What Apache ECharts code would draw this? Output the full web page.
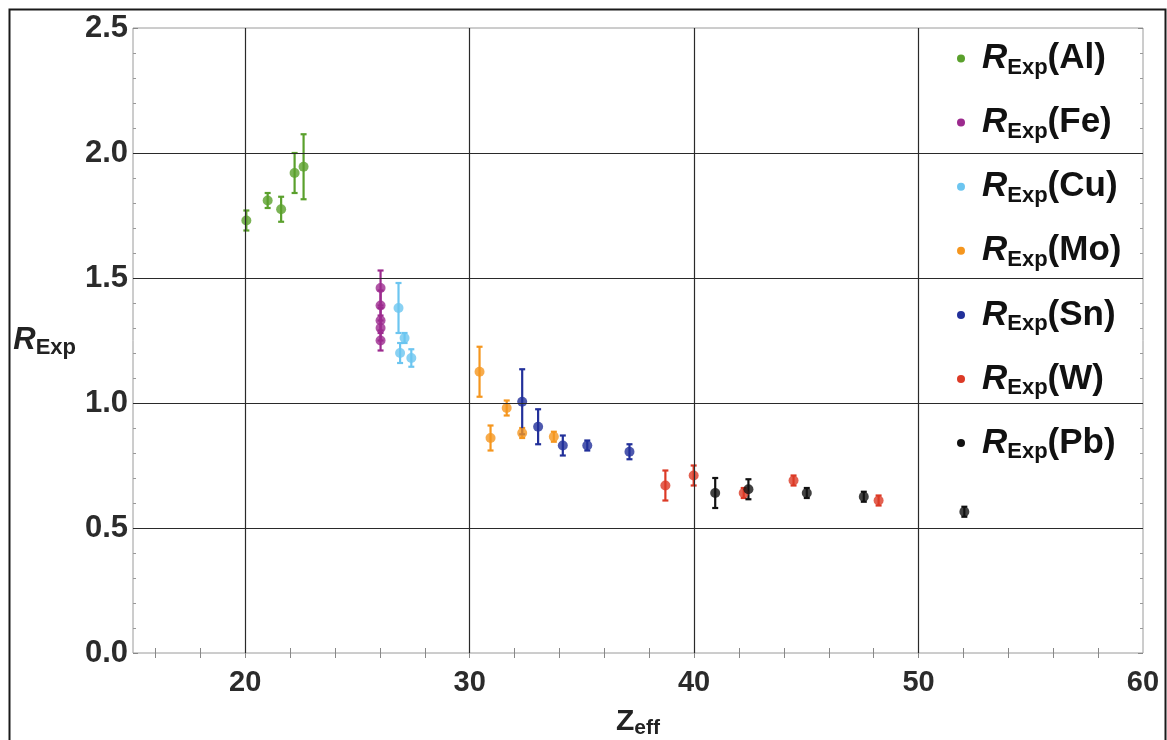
<!DOCTYPE html>
<html>
<head>
<meta charset="utf-8">
<script src="https://cdn.jsdelivr.net/npm/echarts@6/dist/echarts.min.js"></script>
<style>
  html, body { margin: 0; padding: 0; background: #fff; }
  #chart { width: 1167px; height: 740px; }
</style>
</head>
<body>
<div id="chart"></div>
<script>
// Measured ratio R_Exp versus effective atomic number Z_eff, one set per target.
// Each point: [Z_eff, R_Exp, uncertainty]
const targets = ['Al', 'Fe', 'Cu', 'Mo', 'Sn', 'W', 'Pb'];
const colors  = ['#5aa02c', '#9c2a8e', '#6cc5f0', '#f5961e', '#22309a', '#dc3a26', '#111111'];

const dataAl = [[20.05, 1.73, 0.04], [21.0, 1.81, 0.03], [21.6, 1.775, 0.05], [22.2, 1.92, 0.08], [22.6, 1.945, 0.13]];
const dataFe = [[26.03, 1.46, 0.07], [26.03, 1.39, 0.06], [26.03, 1.33, 0.05], [26.03, 1.30, 0.05], [26.03, 1.25, 0.04]];
const dataCu = [[26.83, 1.38, 0.10], [27.1, 1.26, 0.02], [26.9, 1.20, 0.04], [27.4, 1.18, 0.035]];
const dataMo = [[30.44, 1.125, 0.10], [30.93, 0.86, 0.05], [31.65, 0.98, 0.03], [32.34, 0.88, 0.02], [33.75, 0.865, 0.02]];
const dataSn = [[32.34, 1.005, 0.13], [33.05, 0.905, 0.07], [34.15, 0.83, 0.04], [35.24, 0.83, 0.02], [37.12, 0.805, 0.03]];
const dataW  = [[38.72, 0.67, 0.06], [39.98, 0.71, 0.04], [42.21, 0.64, 0.02], [44.43, 0.69, 0.02], [48.22, 0.61, 0.02]];
const dataPb = [[40.94, 0.64, 0.06], [42.42, 0.655, 0.04], [45.02, 0.64, 0.02], [47.56, 0.625, 0.02], [52.04, 0.565, 0.02]];
const seriesData = [dataAl, dataFe, dataCu, dataMo, dataSn, dataW, dataPb];

// Axis ticks and grid lines
const xRange = [15, 60];
const yRange = [0, 2.5];
const xLabelValues = [20, 30, 40, 50, 60];
const xTickValues = [16, 18, 20, 22, 24, 26, 28, 30, 32, 34, 36, 38, 40, 42, 44, 46, 48, 50, 52, 54, 56, 58];
const xGridValues = [20, 30, 40, 50];
const yGridValues = [0.5, 1.0, 1.5, 2.0];

const FONT = '"Liberation Sans", Arial, sans-serif';
const chart = echarts.init(document.getElementById('chart'));

function errorBarItem(params, api) {
  const x = api.value(0), y = api.value(1), e = api.value(2);
  const top = api.coord([x, y + e]);
  const bot = api.coord([x, y - e]);
  const c = api.visual('color');
  const cap = 3;
  const style = { stroke: c, lineWidth: 2.2 };
  return {
    type: 'group',
    children: [
      { type: 'line', shape: { x1: top[0], y1: top[1], x2: bot[0], y2: bot[1] }, style },
      { type: 'line', shape: { x1: top[0] - cap, y1: top[1], x2: top[0] + cap, y2: top[1] }, style },
      { type: 'line', shape: { x1: bot[0] - cap, y1: bot[1], x2: bot[0] + cap, y2: bot[1] }, style }
    ]
  };
}

const series = [];
// grid lines
series.push({
  type: 'line', name: '_grid', data: [], silent: true, z: 1,
  markLine: {
    silent: true, symbol: 'none', label: { show: false },
    lineStyle: { color: '#2a2a2a', width: 1.2, type: 'solid' },
    data: xGridValues.map(v => ({ xAxis: v })).concat(yGridValues.map(v => ({ yAxis: v })))
  }
});
targets.forEach((t, i) => {
  series.push({
    type: 'custom', name: t, renderItem: errorBarItem, z: 3,
    itemStyle: { color: colors[i] },
    encode: { x: 0, y: 1 },
    data: seriesData[i]
  });
  series.push({
    type: 'scatter', name: t, symbol: 'circle', symbolSize: 10, z: 4,
    itemStyle: { color: colors[i] },
    data: seriesData[i].map(d => [d[0], d[1]])
  });
});

const tickStyle = { show: true, inside: true, length: 5, lineStyle: { color: '#888', width: 1 } };

chart.setOption({
  backgroundColor: '#fff',
  animation: false,
  grid: {
    left: 133, right: 24, top: 28, bottom: 87, show: true,
    borderColor: '#9a9a9a', borderWidth: 1,
    containLabel: false, outerBoundsMode: 'none'
  },
  graphic: [{
    type: 'rect', left: 7, top: 7, silent: true,
    shape: { width: 1156, height: 760 },
    style: { fill: 'none', stroke: '#1a1a1a', lineWidth: 2 }
  }],
  legend: {
    data: targets,
    orient: 'vertical',
    left: 952, top: 36,
    itemGap: 26.6,
    itemWidth: 32, itemHeight: 8,
    icon: 'circle',
    symbolKeepAspect: true,
    formatter: n => '{r|R}{s|Exp}{n|(' + n + ')}',
    textStyle: {
      color: '#111',
      rich: {
        r: { fontFamily: FONT, fontWeight: 'bold', fontStyle: 'italic', fontSize: 35, lineHeight: 40 },
        s: { fontFamily: FONT, fontWeight: 'bold', fontSize: 22, lineHeight: 22, verticalAlign: 'bottom' },
        n: { fontFamily: FONT, fontWeight: 'bold', fontSize: 35, lineHeight: 40 }
      }
    }
  },
  xAxis: [{
    type: 'value', min: xRange[0], max: xRange[1], position: 'bottom',
    name: '{z|Z}{s|eff}', nameLocation: 'middle', nameGap: 52,
    nameTextStyle: {
      color: '#222',
      rich: {
        z: { fontFamily: FONT, fontWeight: 'bold', fontSize: 30, lineHeight: 34 },
        s: { fontFamily: FONT, fontWeight: 'bold', fontSize: 21, lineHeight: 21, verticalAlign: 'bottom' }
      }
    },
    axisLine: { show: false },
    splitLine: { show: false },
    axisTick: Object.assign({ customValues: xTickValues }, tickStyle),
    axisLabel: {
      customValues: xLabelValues, margin: 15,
      color: '#2b2b2b', fontFamily: FONT, fontWeight: 'bold', fontSize: 29
    }
  }, {
    type: 'value', min: xRange[0], max: xRange[1], position: 'top',
    axisLine: { show: false }, splitLine: { show: false },
    axisTick: Object.assign({ customValues: xTickValues }, tickStyle),
    axisLabel: { show: false }
  }],
  yAxis: [{
    type: 'value', min: yRange[0], max: yRange[1], interval: 0.5, position: 'left',
    name: '{r|R}{s|Exp}', nameLocation: 'middle', nameRotate: 0, nameGap: 57,
    nameTextStyle: {
      color: '#222',
      rich: {
        r: { fontFamily: FONT, fontWeight: 'bold', fontStyle: 'italic', fontSize: 31, lineHeight: 36 },
        s: { fontFamily: FONT, fontWeight: 'bold', fontSize: 22, lineHeight: 22, verticalAlign: 'bottom' }
      }
    },
    axisLine: { show: false },
    splitLine: { show: false },
    axisTick: tickStyle,
    minorTick: { show: true, splitNumber: 5, length: 3, lineStyle: { color: '#999' } },
    axisLabel: {
      margin: 5, color: '#2b2b2b', fontFamily: FONT, fontWeight: 'bold', fontSize: 31,
      formatter: v => v.toFixed(1)
    }
  }, {
    type: 'value', min: yRange[0], max: yRange[1], interval: 0.5, position: 'right',
    axisLine: { show: false }, splitLine: { show: false },
    axisTick: tickStyle,
    minorTick: { show: true, splitNumber: 5, length: 3, lineStyle: { color: '#999' } },
    axisLabel: { show: false }
  }],
  series
});
</script>
</body>
</html>
